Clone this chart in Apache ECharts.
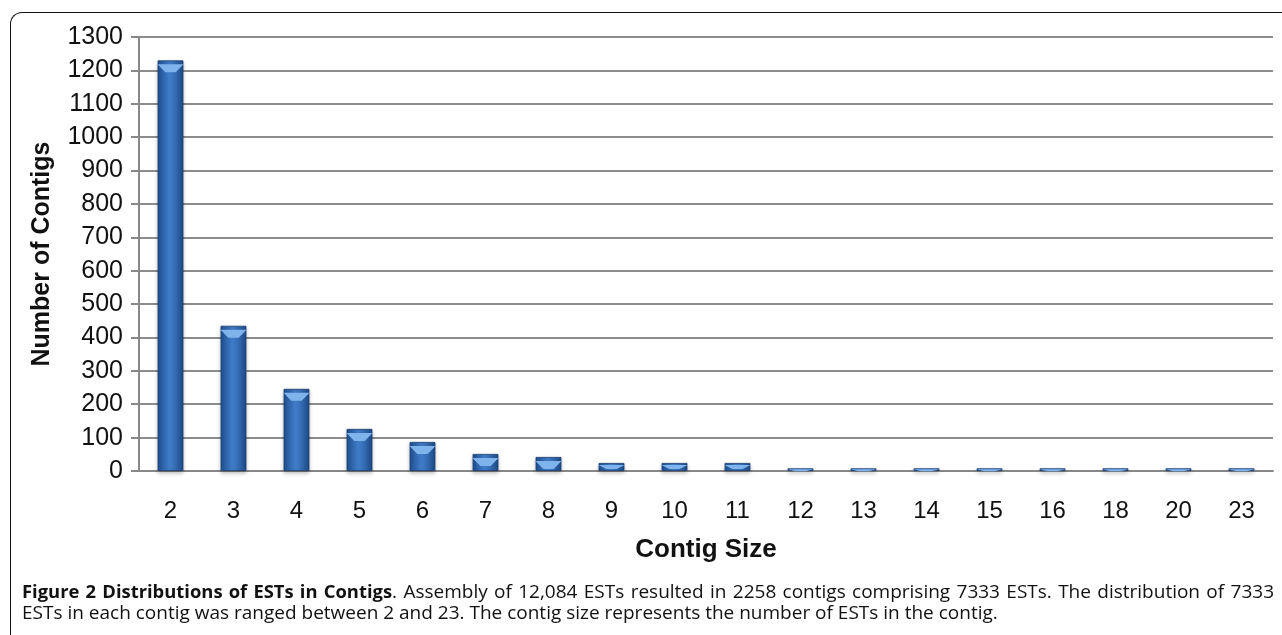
<!DOCTYPE html>
<html><head><meta charset="utf-8">
<script src="https://cdn.jsdelivr.net/npm/echarts@6/dist/echarts.min.js"></script>
<style>
html,body{margin:0;padding:0;background:#fff;}
#wrap{position:relative;width:1282px;height:635px;overflow:hidden;}
#frame{position:absolute;left:10px;top:12px;width:1300px;height:700px;border-left:1.5px solid #111;border-top:1.5px solid #111;border-top-left-radius:12px;}
#chart{position:absolute;left:0;top:0;width:1282px;height:635px;}
#cap{position:absolute;left:22px;top:580px;width:1252px;font-family:"Open Sans",sans-serif;font-size:19px;line-height:21px;color:#111;}
#cap b{font-size:18.4px;}
#cap .l1{text-align:justify;text-align-last:justify;}
#cap .l2{white-space:nowrap;}
</style></head>
<body><div id="wrap"><div id="frame"></div><div id="chart"></div>
<div id="cap"><div class="l1"><b>Figure 2 Distributions of ESTs in Contigs</b>. Assembly of 12,084 ESTs resulted in 2258 contigs comprising 7333 ESTs. The distribution of 7333</div><div class="l2">ESTs in each contig was ranged between 2 and 23. The contig size represents the number of ESTs in the contig.</div></div></div>
<script>
const categories = ['2','3','4','5','6','7','8','9','10','11','12','13','14','15','16','18','20','23'];
const contigCounts = [1230, 435, 246, 126, 87, 51, 42, 24, 24, 24, 8, 8, 8, 8, 8, 8, 8, 8];
const yTicks = {min: 0, max: 1300, interval: 100};

const chart = echarts.init(document.getElementById('chart'));
const barGrad = new echarts.graphic.LinearGradient(0,0,1,0,[
  {offset:0,color:'#1f4f8f'},{offset:0.45,color:'#3f7cc8'},{offset:0.6,color:'#3a74bd'},{offset:1,color:'#1d4a87'}]);
const capData = contigCounts.map(v => ({value:v, symbolSize:[26, v >= 40 ? 8 : (v >= 20 ? 4 : 2)]}));
chart.setOption({
  animation:false,
  grid:{left:139,right:9,top:37,bottom:164},
  xAxis:{type:'category',data:categories,
    axisLine:{lineStyle:{color:'#888',width:2}},
    axisTick:{length:9,lineStyle:{color:'#888',width:2}},
    axisLabel:{fontFamily:'Liberation Sans',fontSize:24,color:'#111',margin:28},
    name:'Contig Size',nameLocation:'middle',nameGap:66,
    nameTextStyle:{fontFamily:'Liberation Sans',fontSize:26,fontWeight:'bold',color:'#111'}},
  yAxis:{type:'value',min:yTicks.min,max:yTicks.max,interval:yTicks.interval,
    axisLine:{show:true,lineStyle:{color:'#888',width:2}},
    axisTick:{show:true,length:8,lineStyle:{color:'#888',width:2}},
    splitLine:{lineStyle:{color:'#8c8c8c',width:2}},
    axisLabel:{fontFamily:'Liberation Sans',fontSize:25,color:'#111',margin:16,formatter:v=>String(v)},
    name:'Number of Contigs',nameLocation:'middle',nameGap:84,
    nameTextStyle:{fontFamily:'Liberation Sans',fontSize:25,fontWeight:'bold',color:'#111'}},
  series:[
    {type:'bar',data:contigCounts,barWidth:'41%',
     itemStyle:{color:barGrad,borderColor:'#1a3f73',borderWidth:0.8,shadowColor:'rgba(0,0,0,0.25)',shadowBlur:4,shadowOffsetY:2}},
    {type:'pictorialBar',data:capData,symbol:'path://M0,0 L10,0 L7,6 L3,6 Z',
     symbolPosition:'end',symbolOffset:[0,'50%'],barGap:'-100%',z:3,
     itemStyle:{color:'#7fb3ec'}}
  ]
});
</script></body></html>
